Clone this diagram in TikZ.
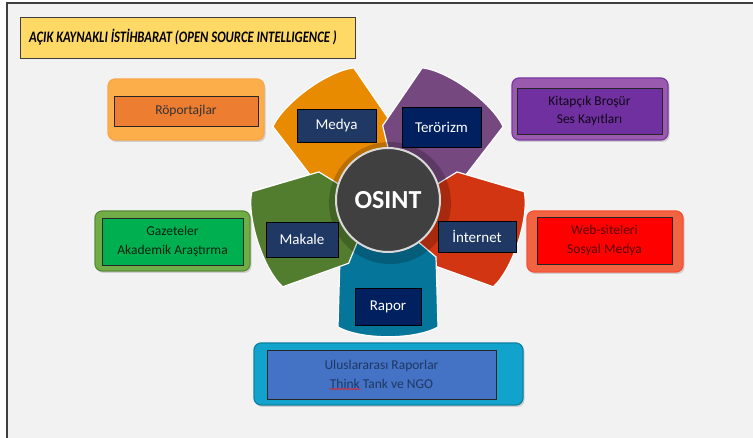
\documentclass[tikz,border=0pt]{standalone}
\usepackage{fontspec}
\setmainfont{Carlito}
\usetikzlibrary{calc}
\usetikzlibrary{shadows}
\usetikzlibrary{decorations.pathmorphing}
\definecolor{bggray}{HTML}{F2F2F2}
\definecolor{frame}{HTML}{3F3F3F}
\definecolor{titleyel}{HTML}{FFD966}
\definecolor{medyaor}{HTML}{E98B00}
\definecolor{terorpu}{HTML}{754880}
\definecolor{netred}{HTML}{D23512}
\definecolor{raporteal}{HTML}{05769A}
\definecolor{makalegr}{HTML}{527D2E}
\definecolor{navyA}{HTML}{1F3864}
\definecolor{navyB}{HTML}{002060}
\definecolor{orOut}{HTML}{FBAE4A}
\definecolor{orIn}{HTML}{ED7D31}
\definecolor{puOut}{HTML}{9A5BAE}
\definecolor{puIn}{HTML}{7030A0}
\definecolor{grOut}{HTML}{70AD47}
\definecolor{grIn}{HTML}{00B050}
\definecolor{reOut}{HTML}{F26441}
\definecolor{reIn}{HTML}{FF0000}
\definecolor{blOut}{HTML}{12A3CC}
\definecolor{blIn}{HTML}{4472C4}
\definecolor{spellred}{HTML}{E02020}
\newcommand{\petal}[2]{\filldraw[fill=#2, draw=white, line width=1.2pt, shift={(388,200)}, rotate=#1] (40,-28) -- (57,-48) -- (127,-50) .. controls (140,-27) and (140,27) .. (127,50) -- (57,48) -- (40,28) -- cycle;}
\tikzset{
  outerbox/.style={rounded corners=7pt, line width=1.2pt, inner sep=0pt, drop shadow={shadow xshift=1.5pt, shadow yshift=-2pt, opacity=.3}},
  innerbox/.style={draw=black!85, line width=.8pt, inner sep=0pt, align=center, font=\fontsize{13.5}{18.5}\selectfont},
  petalbox/.style={draw=black, line width=.8pt, inner sep=0pt, text=white, font=\fontsize{15}{18}\selectfont}
}
\begin{document}
\begin{tikzpicture}[x=1pt, y=-1pt]
    \useasboundingbox (0,0) rectangle (753,438);
    % background
    \fill[white] (0,0) rectangle (753,438);
    \fill[bggray] (7,3) rectangle (753,438);
    \draw[frame, line width=1.5pt] (7,438) -- (7,3) -- (753,3);
    % title
    \node[anchor=west, fill=titleyel, draw=frame, line width=.6pt, minimum width=335pt, minimum height=41pt] (title) at (20,37.5) {};
    \node[anchor=west, inner sep=0pt, font=\fontsize{16}{18}\selectfont\bfseries\itshape] (titletext) at (29,37.5) {\scalebox{0.79}[1]{AÇIK KAYNAKLI İSTİHBARAT (OPEN SOURCE INTELLIGENCE )}};
    % petals
    \petal{126}{medyaor}
    \petal{54}{terorpu}
    \petal{342}{netred}
    \petal{270}{raporteal}
    \petal{198}{makalegr}
    % centre
    \fill[black, opacity=.2] (390,203) circle (61);
    \node[circle, fill=black!75, draw=black!15, line width=2pt, minimum size=104pt, inner sep=0pt, text=white, font=\fontsize{26}{30}\selectfont\bfseries] (osint) at (388,200) {OSINT};
    % petal labels
    \node[petalbox, fill=navyA, minimum width=79pt, minimum height=33pt] (medya) at (336.5,125.5) {Medya};
    \node[petalbox, fill=navyB, minimum width=79pt, minimum height=40pt] (teror) at (441.5,127) {Terörizm};
    \node[petalbox, fill=navyA, minimum width=72pt, minimum height=35pt] (makale) at (302,239.5) {Makale};
    \node[petalbox, fill=navyA, minimum width=78pt, minimum height=31pt] (internet) at (477,236.5) {İnternet};
    \node[petalbox, fill=navyB, minimum width=66pt, minimum height=37pt] (rapor) at (388,306.5) {Rapor};
    % source boxes
    \node[outerbox, fill=orOut, draw=orOut!85!orIn, minimum width=156pt, minimum height=61pt] (roportajO) at (186,109.5) {};
    \node[innerbox, fill=orIn, text=black!80, minimum width=144pt, minimum height=30pt] (roportaj) at (186,111) {Röportajlar};
    \node[outerbox, fill=puOut, draw=puIn!80!puOut, minimum width=156pt, minimum height=62pt] (kitapO) at (590,109) {};
    \node[innerbox, fill=puIn, text=black!85!puIn, minimum width=145pt, minimum height=46pt] (kitap) at (589.5,111) {Kitapçık Broşür\\Ses Kayıtları};
    \node[outerbox, fill=grOut, draw=grOut!80!black, minimum width=155pt, minimum height=60pt] (gazeteO) at (172.5,241) {};
    \node[innerbox, fill=grIn, text=black!80!grIn, minimum width=141pt, minimum height=47pt] (gazete) at (172.5,241.5) {Gazeteler\\Akademik Araştırma};
    \node[outerbox, fill=reOut, draw=reOut!80!red, minimum width=156pt, minimum height=61pt] (webO) at (605,241.5) {};
    \node[innerbox, fill=reIn, text=black!65!reIn, minimum width=135pt, minimum height=47pt] (web) at (604.5,240.5) {Web-siteleri\\Sosyal Medya};
    \node[outerbox, fill=blOut, draw=blOut!80!black, minimum width=269pt, minimum height=62pt] (ulusO) at (388.5,374) {};
    \node[innerbox, fill=blIn, text=navyA, minimum width=229pt, minimum height=49pt] (ulus) at (381.5,374.5) {Uluslararası Raporlar\\Think Tank ve NGO};
    \draw[spellred, line width=.6pt, decorate, decoration={snake, amplitude=.8pt, segment length=3pt}] ($(ulus.center)+(-52,14.5)$) -- ++(31,0);
\end{tikzpicture}
\end{document}
